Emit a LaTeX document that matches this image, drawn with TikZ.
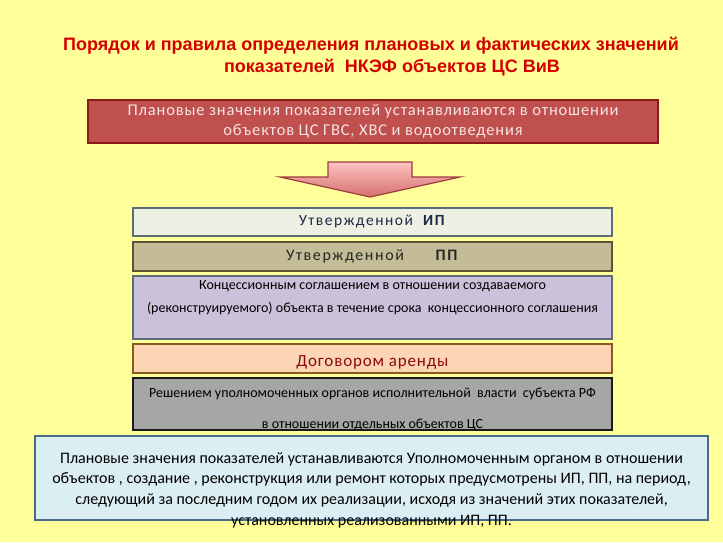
\documentclass[tikz,border=0pt]{standalone}
\usepackage{fontspec}
\setmainfont{Carlito}
\newfontfamily\titlefont{Liberation Sans}
\newfontfamily\wide[LetterSpace=5]{Carlito}
\newfontfamily\wider[LetterSpace=10]{Carlito}
\usepackage{tikz}
\usetikzlibrary{calc}
\definecolor{fon}{HTML}{FFFF99}
\definecolor{titlered}{HTML}{D40000}
\definecolor{planfill}{HTML}{C0504D}
\definecolor{planline}{HTML}{8C1A1A}
\definecolor{plantext}{HTML}{F4E4E4}
\definecolor{ipfill}{HTML}{EEF0E4}
\definecolor{ipline}{HTML}{5B6E78}
\definecolor{ppfill}{HTML}{C4BC96}
\definecolor{ppline}{HTML}{5A5436}
\definecolor{koncfill}{HTML}{CCC1DA}
\definecolor{koncline}{HTML}{5E6A78}
\definecolor{arfill}{HTML}{FCD5B4}
\definecolor{arline}{HTML}{8A5A1C}
\definecolor{artext}{HTML}{8B0A0A}
\definecolor{resfill}{HTML}{A6A6A6}
\definecolor{resline}{HTML}{1A1A1A}
\definecolor{itfill}{HTML}{DBEEF4}
\definecolor{itline}{HTML}{4A6A86}
\definecolor{navy}{HTML}{1F2A48}
\tikzstyle{box} = [rectangle, draw, line width=2pt, minimum width=479pt, align=center, inner sep=0pt]
\tikzstyle{txt} = [align=center, inner sep=0pt]

\begin{document}
\begin{tikzpicture}[x=1pt, y=-1pt]
  \fill[fon] (0,0) rectangle (723,542);
  \node[txt, font=\titlefont\bfseries\fontsize{18}{22.5}\selectfont, text=titlered] (titul) at (371,56.5)
    {Порядок и правила определения плановых и фактических значений\\\hspace*{42pt}показателей~~НКЭФ объектов ЦС ВиВ};
  \node[box, fill=planfill, draw=planline, minimum width=570pt, minimum height=43pt, text=plantext,
    font=\wide\fontsize{16.5}{20}\selectfont] (plan) at (373,121.5)
    {Плановые значения показателей устанавливаются в отношении\\объектов ЦС ГВС, ХВС и водоотведения};
  % strelka
  \draw[line width=1.2pt, draw=planline!85, top color=pink!80!red!60, bottom color=planfill!70!pink]
    (328,162) -- (412,162) -- (412,177) -- (460,177) -- (370,197) -- (280,177) -- (328,177) -- cycle;
  \node[box, fill=ipfill, draw=ipline, minimum height=28pt, text=navy, font=\wider\fontsize{15.5}{18}\selectfont] (utvip) at (372.5,222)
    {Утвержденной~~\textbf{ИП}};
  \node[box, fill=ppfill, draw=ppline, minimum height=29pt, text=black!85, font=\wider\fontsize{16}{18}\selectfont] (utvpp) at (372.5,256.5)
    {Утвержденной\hspace{30pt}\textbf{ПП}};
  \node[box, fill=koncfill, draw=koncline, minimum height=63pt, font=\fontsize{14}{23}\selectfont] (konc) at (372.5,307.5)
    {Концессионным соглашением в отношении создаваемого\\(реконструируемого) объекта в течение срока~~концессионного соглашения\\\mbox{}};
  \node[box, fill=arfill, draw=arline, minimum height=29pt] (arenda) at (372.5,358.5) {};
  \node[txt, text=artext, font=\wide\fontsize{17}{19}\selectfont] (arendatext) at (372.5,362.5)
    {Договором аренды};
  \node[box, fill=resfill, draw=resline, minimum height=52pt] (resh) at (372.5,404) {};
  \node[txt, font=\fontsize{14}{31}\selectfont] (reshtext) at (372.5,409)
    {Решением уполномоченных органов исполнительной~~власти~~субъекта РФ\\в отношении отдельных объектов ЦС};
  \node[box, fill=itfill, draw=itline, line width=2.5pt, minimum width=673pt, minimum height=84pt] (itog) at (371.5,478) {};
  \node[txt, font=\fontsize{16}{20.7}\selectfont] (itogtext) at (371.5,490)
    {Плановые значения показателей устанавливаются Уполномоченным органом в отношении\\
     объектов , создание , реконструкция или ремонт которых предусмотрены ИП, ПП, на период,\\
     следующий за последним годом их реализации, исходя из значений этих показателей,\\
     установленных реализованными ИП, ПП.};
\end{tikzpicture}
\end{document}
